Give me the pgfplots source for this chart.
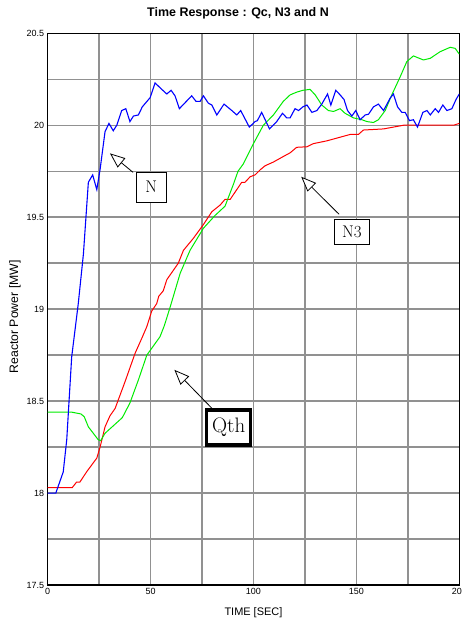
\documentclass[border=0pt]{standalone}
\usepackage{fontspec}
\setsansfont{Liberation Sans}
\usepackage{pgfplots}
\pgfplotsset{compat=1.18}
\usetikzlibrary{arrows.meta}
\definecolor{gridgray}{RGB}{145,145,145}
\definecolor{nblue}{RGB}{0,0,255}
\definecolor{ngreen}{RGB}{0,235,0}
\definecolor{nred}{RGB}{255,0,0}
\begin{document}
\begin{tikzpicture}
\begin{axis}[name=ax, scale only axis, width=411.7bp, height=551.7bp,
  xmin=0, xmax=200, ymin=17.5, ymax=20.5,
  xtick={0,50,100,150,200}, minor xtick={25,75,125,175},
  ytick={17.5,18,18.5,19,19.5,20,20.5},
  minor ytick={17.75,18.25,18.75,19.25,19.75,20.25},
  grid=both,
  major grid style={gridgray, line width=1.4bp},
  minor grid style={gridgray, line width=1.4bp},
  major tick length=0pt, minor tick length=0pt,
  axis line style={black, line width=1.1bp},
  /pgf/number format/assume math mode=true,
  tick label style={font=\sffamily\fontsize{9}{10}\selectfont},
  title={Time Response : Qc, N3 and N},
  title style={at={(0.4625,1)}, anchor=center, yshift=14bp, font=\sffamily\bfseries\fontsize{12.5}{14}\selectfont},
  xlabel={TIME [SEC]}, ylabel={Reactor Power [MW]},
  xlabel style={at={(axis description cs:0.5,-0.0508)}, anchor=center, font=\sffamily\fontsize{11}{12}\selectfont},
  ylabel style={at={(axis description cs:-0.0792,0.486)}, anchor=center, font=\sffamily\fontsize{12.3}{14}\selectfont},
]
\addplot[nred, line width=1bp] coordinates {
(0,18.03) (12,18.03) (14.1,18.06) (15.7,18.06) (19,18.116) (23.9,18.19) (25.5,18.25) (27.9,18.36) (30.3,18.42) (32.8,18.46) (37.6,18.605) (42.5,18.76) (45.7,18.84) (48.2,18.905) (50.6,18.99) (53,19.03) (54,19.07) (56.2,19.10) (57.9,19.16) (63.5,19.25) (66,19.32) (70.8,19.385) (75.7,19.46) (79.8,19.53) (83.8,19.566) (86.2,19.597) (88.7,19.597) (91.9,19.65) (94.3,19.69) (95.9,19.69) (98.4,19.72) (100.8,19.73) (103.2,19.757) (105.7,19.78) (109.7,19.80) (114.5,19.83) (117.8,19.85) (121,19.88) (126,19.883) (129.1,19.90) (135.6,19.915) (142.1,19.935) (147,19.95) (151,19.95) (153.4,19.974) (163.2,19.98) (168,19.99) (172.9,20.0) (197.2,20.0) (200,20.01)
};
\addplot[ngreen, line width=1bp] coordinates {
(0,18.44) (11.7,18.44) (16.2,18.43) (17.8,18.415) (19.8,18.36) (24.6,18.29) (25.8,18.285) (27.9,18.325) (36.3,18.41) (40,18.49) (44.1,18.615) (48.2,18.75) (54.6,18.85) (56.7,18.91) (59.5,19.01) (64.4,19.195) (69.2,19.32) (75.7,19.44) (81.4,19.51) (86.2,19.56) (90.3,19.68) (92.5,19.75) (95.1,19.79) (100,19.90) (104.8,20.0) (109.7,20.056) (114.5,20.13) (117.8,20.165) (121,20.18) (124,20.19) (127.5,20.195) (130,20.165) (133.2,20.11) (136.4,20.08) (138.9,20.075) (142.1,20.09) (144.5,20.065) (148.6,20.04) (152.7,20.03) (155.1,20.02) (158.3,20.015) (160.7,20.03) (164,20.08) (167.2,20.165) (171.3,20.264) (174.5,20.346) (177.7,20.377) (182.6,20.355) (185.9,20.364) (190.7,20.40) (195.6,20.424) (198,20.418) (200,20.387)
};
\addplot[nblue, line width=1.1bp] coordinates {
(0,18.0) (4,18.0) (7.6,18.115) (9.3,18.29) (11.7,18.74) (14.9,19.03) (17.4,19.30) (19.8,19.69) (21.9,19.73) (23.9,19.65) (25.5,19.76) (27.9,19.965) (29.8,20.01) (31.9,19.97) (33.6,20.0) (36.0,20.08) (38,20.09) (40,20.02) (41.7,20.05) (44.1,20.056) (46,20.10) (49.8,20.15) (52.2,20.23) (55,20.20) (57.9,20.17) (60,20.19) (61.9,20.16) (64,20.09) (70,20.16) (72.1,20.13) (74.1,20.13) (75.7,20.16) (78.1,20.12) (79.8,20.11) (82.2,20.056) (85.7,20.115) (89.5,20.08) (91.9,20.056) (93.8,20.08) (98,19.99) (100.8,20.02) (101.9,20.025) (104,20.07) (107.8,19.98) (111.3,20.02) (114.1,20.065) (116.2,20.04) (117.8,20.04) (120.2,20.09) (121.9,20.08) (124,20.10) (126,20.11) (128.4,20.07) (130.8,20.08) (133.2,20.115) (136,20.17) (137.6,20.11) (140,20.19) (142.1,20.165) (144,20.14) (145.7,20.08) (147.8,20.05) (149.7,20.08) (151.8,20.03) (154.3,20.056) (155.9,20.06) (158.3,20.10) (160.7,20.115) (163.2,20.08) (166.4,20.147) (168,20.17) (170,20.10) (172.1,20.07) (173.7,20.07) (175.8,20.025) (177.7,20.03) (179.7,19.99) (182.3,20.07) (184.3,20.08) (185.9,20.056) (188.3,20.09) (189.9,20.07) (192,20.11) (194,20.08) (196.4,20.09) (198.4,20.14) (200,20.17)
};
% annotations
\draw[black, line width=0.8bp, -{Triangle[length=15bp,width=12bp,fill=white]}] (axis cs:41.5,19.744) -- (axis cs:30.3,19.847);
\node[draw=black, line width=0.8bp, fill=white, minimum width=30bp, minimum height=30bp, inner sep=0pt, font=\fontsize{17}{17}\selectfont] at (axis cs:50.3,19.664) {N};
\draw[black, line width=0.8bp, -{Triangle[length=15bp,width=12bp,fill=white]}] (axis cs:141.6,19.516) -- (axis cs:123.2,19.72);
\node[draw=black, line width=0.8bp, fill=white, minimum width=35bp, minimum height=25bp, inner sep=0pt, font=\fontsize{17}{17}\selectfont] at (axis cs:147.8,19.42) {N3};
\draw[black, line width=0.8bp, -{Triangle[length=15bp,width=12bp,fill=white]}] (axis cs:79.8,18.461) -- (axis cs:61.6,18.67);
\node[draw=black, line width=3.2bp, fill=white, minimum width=44bp, minimum height=35bp, inner sep=0pt, font=\fontsize{21}{21}\selectfont] at (axis cs:88.0,18.356) {Qth};
\end{axis}
\pgfresetboundingbox
\path ([xshift=-47.6bp,yshift=-38bp]ax.south west) rectangle ([xshift=2.7bp,yshift=33.3bp]ax.north east);
\end{tikzpicture}
\end{document}
